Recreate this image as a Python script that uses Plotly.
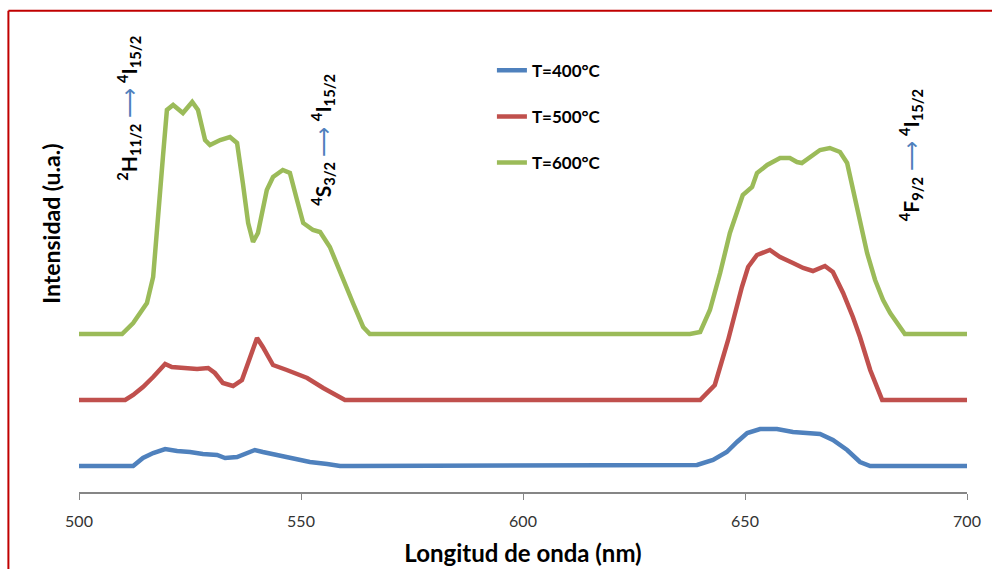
import plotly.graph_objects as go

# Wavelength (nm) / intensity (a.u., offset per series)
wl_400 = [500, 512.2, 514.4, 516.7, 519.4, 522.1, 525.0, 527.9, 531.1, 532.9, 535.6, 537.8, 539.6,
          541.4, 544.6, 547.5, 552.0, 555.9, 558.8, 561.7, 635.4, 639.2, 642.8, 645.9, 648.2, 650.5,
          653.4, 657.2, 660.8, 664.0, 666.9, 669.8, 673.0, 675.9, 678.2, 700]
int_400 = [26, 26, 34, 39, 43, 41, 40, 38, 37, 34, 35, 39, 42,
           40, 37, 35, 30, 28, 26, 26, 26, 27, 32, 40, 50, 59,
           63, 63, 60, 59, 58, 52, 42, 30, 26, 26]

wl_500 = [500, 510.4, 512.2, 514.4, 516.7, 519.4, 520.9, 523.4, 526.6, 529.1, 530.6, 532.4, 534.7,
          536.7, 538.5, 540.1, 541.4, 543.7, 546.8, 551.4, 555.0, 558.1, 559.9, 639.9, 643.2, 646.2,
          647.7, 649.3, 650.7, 652.7, 655.6, 657.9, 660.8, 663.1, 665.3, 668.0, 669.8, 672.1, 674.3,
          675.9, 678.2, 680.9, 700]
int_500 = [92, 92, 97, 105, 115, 128, 125, 124, 123, 124, 119, 109, 106,
           112, 135, 154, 145, 127, 122, 114, 104, 97, 92, 92, 107, 152,
           179, 205, 225, 237, 242, 235, 229, 224, 221, 226, 220, 199, 175,
           155, 122, 92, 92]

wl_600 = [500, 509.7, 512.2, 515.3, 516.7, 517.8, 518.9, 519.8, 521.2, 523.4, 525.5, 526.8, 528.4,
          529.5, 531.8, 534.0, 535.6, 536.9, 538.1, 539.2, 540.3, 542.3, 543.7, 545.9, 547.5, 549.1,
          550.5, 552.7, 554.3, 556.5, 558.8, 561.7, 564.0, 565.5, 637.6, 639.9, 642.1, 644.4, 646.6,
          648.2, 649.5, 651.6, 652.7, 655.0, 657.9, 660.1, 661.7, 662.8, 664.6, 666.9, 669.1, 671.4,
          673.0, 674.3, 675.9, 677.5, 679.3, 681.1, 682.7, 686.0, 700]
int_600 = [158, 158, 169, 189, 215, 269, 335, 382, 387, 379, 390, 382, 352,
           347, 352, 355, 349, 309, 269, 250, 259, 302, 315, 322, 319, 292,
           269, 262, 260, 245, 219, 189, 165, 158, 158, 160, 182, 219, 259,
           282, 297, 305, 319, 327, 334, 334, 330, 329, 335, 342, 344, 340,
           329, 302, 269, 239, 212, 192, 179, 158, 158]

series_names = ["T=400°C", "T=500°C", "T=600°C"]
series_colors = ["#4F81BD", "#C0504D", "#9BBB59"]
x_ticks = [500, 550, 600, 650, 700]

FONT = "Lato"

fig = go.Figure()
for i, (xs, ys) in enumerate([(wl_400, int_400), (wl_500, int_500), (wl_600, int_600)]):
    fig.add_trace(go.Scatter(
        x=xs, y=ys, mode="lines", name=series_names[i], legendgroup=str(i),
        line=dict(color=series_colors[i], width=4.5, shape="linear"),
    ))

arrow = "<span style='color:#4F81BD;font-weight:normal'> ⟶ </span>"
transitions = [
    ("<sup>2</sup>H<sub>11/2</sub>" + arrow + "<sup>4</sup>I<sub>15/2</sub>", 511.0, 384),
    ("<sup>4</sup>S<sub>3/2</sub>" + arrow + "<sup>4</sup>I<sub>15/2</sub>", 554.7, 352),
    ("<sup>4</sup>F<sub>9/2</sub>" + arrow + "<sup>4</sup>I<sub>15/2</sub>", 687.2, 337),
]
for txt, xv, yv in transitions:
    fig.add_annotation(x=xv, y=yv, xref="x", yref="y", text=txt, textangle=-90,
                       showarrow=False, font=dict(family=FONT, size=21, color="black", weight="bold"))

# Y-axis title
fig.add_annotation(x=-0.049, y=0.56, xref="paper", yref="paper", text="Intensidad (u.a.)",
                   textangle=-90, showarrow=False,
                   font=dict(family=FONT, size=23, color="black", weight="bold"))

# Red frame (left and top edges visible)
fig.add_shape(type="line", xref="paper", yref="paper", x0=-0.0795, x1=-0.0795, y0=-0.2, y1=1.0025,
              line=dict(color="#C00000", width=2))
fig.add_shape(type="line", xref="paper", yref="paper", x0=-0.0795, x1=1.1, y0=1.0025, y1=1.0025,
              line=dict(color="#C00000", width=2))

fig.update_layout(
    width=992, height=569,
    margin=dict(l=79, r=25, t=12, b=77, autoexpand=False),
    paper_bgcolor="white", plot_bgcolor="white",
    showlegend=True,
    legend=dict(x=0.465, y=0.915, xanchor="left", yanchor="top", tracegroupgap=21,
                bgcolor="rgba(0,0,0,0)",
                font=dict(family=FONT, size=17, color="black", weight="bold")),
    xaxis=dict(range=[500, 700], tickvals=x_ticks, ticktext=[str(v) for v in x_ticks],
               automargin=False,
               showgrid=False, zeroline=False, showline=True, linecolor="#868686", linewidth=1.5,
               ticks="outside", ticklen=6, tickcolor="#868686", ticklabelstandoff=8,
               tickfont=dict(family=FONT, size=16, color="#333333"),
               title=dict(text="Longitud de onda (nm)", standoff=16,
                          font=dict(family=FONT, size=24, color="black", weight="bold"))),
    yaxis=dict(range=[0, 480], visible=False, showgrid=False, zeroline=False),
)

fig.write_html("out.html")
